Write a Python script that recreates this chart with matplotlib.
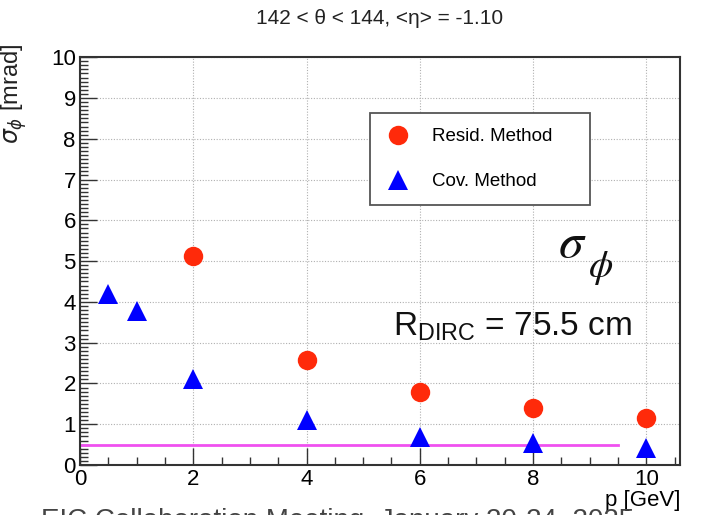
import matplotlib

matplotlib.use("Agg")
from matplotlib import pyplot as plt
from matplotlib.ticker import MultipleLocator

# values
resid_p = [2, 4, 6, 8, 10]
resid_sigma = [5.12, 2.57, 1.78, 1.40, 1.16]
cov_p = [0.5, 1, 2, 4, 6, 8, 10]
cov_sigma = [4.20, 3.77, 2.12, 1.10, 0.68, 0.53, 0.43]
limit_p = [0, 9.5]
limit_sigma = [0.5, 0.5]

plt.rcParams["font.family"] = ["Liberation Sans", "DejaVu Sans"]

fig = plt.figure(figsize=(7.02, 5.15), dpi=100)
ax = fig.add_axes([0.114, 0.097, 0.855, 0.792])

ax.plot(limit_p, limit_sigma, color="#f050f0", linewidth=2.0, zorder=2)
ax.plot(resid_p, resid_sigma, linestyle="none", marker="o", markersize=14,
        color="#ff2a0a", markeredgewidth=0, label="Resid. Method", zorder=3)
ax.plot(cov_p, cov_sigma, linestyle="none", marker="^", markersize=14,
        color="#0000ff", markeredgewidth=0, label="Cov. Method", zorder=3)

ax.set_xlim(0, 10.6)
ax.set_ylim(0, 10)
ax.xaxis.set_major_locator(MultipleLocator(2))
ax.xaxis.set_minor_locator(MultipleLocator(0.5))
ax.yaxis.set_major_locator(MultipleLocator(1))
ax.yaxis.set_minor_locator(MultipleLocator(0.1))
ax.tick_params(which="both", direction="in", labelsize=16, pad=3, width=1.0, color="#333333")
ax.tick_params(which="major", length=12)
ax.tick_params(which="minor", length=6)
ax.grid(True, which="major", linestyle=(0, (1, 1.5)), color="#b0b0b0", linewidth=0.8)
for spine in ax.spines.values():
    spine.set_linewidth(1.5)
    spine.set_color("#333333")

leg = ax.legend(loc="upper left", bbox_to_anchor=(0.483, 0.632, 0.367, 0.231), mode="expand",
                fontsize=13.5, frameon=True, fancybox=False, edgecolor="#555555",
                framealpha=1, borderpad=0.8, labelspacing=1.5, handletextpad=1.1,
                handlelength=1.4, borderaxespad=0)
leg.get_frame().set_linewidth(1.3)

fig.text(0.541, 0.965, "142 < θ < 144, <η> = -1.10", ha="center", va="center",
         fontsize=15, color="#222222")
ax.text(8.45, 5.1, r"$\sigma$", fontsize=36, math_fontfamily="stix", color="#111111",
        va="baseline")
ax.text(8.97, 4.62, r"$\phi$", fontsize=28, math_fontfamily="stix", color="#111111",
        va="baseline")
ax.text(5.52, 3.19, r"R$_{\mathregular{DIRC}}$ = 75.5 cm", fontsize=24, color="#111111",
        va="baseline")

ax.set_xlabel("p [GeV]", fontsize=16, loc="right", labelpad=0)
fig.text(0.02, 0.915, r"$\sigma_{\phi}$ [mrad]", rotation=90, ha="center", va="top",
         fontsize=17, color="#222222")
fig.text(0.058, 0.014, "EIC Collaboration Meeting, January 20-24, 2025", ha="left", va="top",
         fontsize=20, color="#444444")

fig.savefig("out.png", dpi=100)
